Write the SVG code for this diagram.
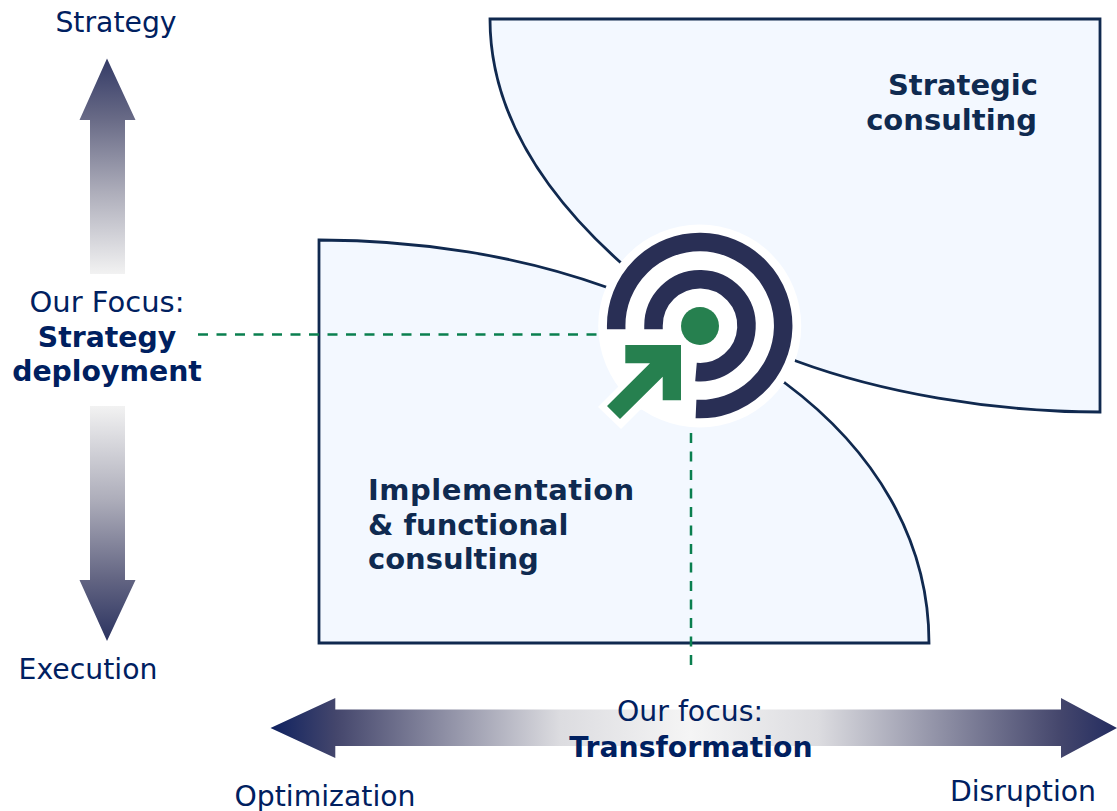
<svg xmlns="http://www.w3.org/2000/svg" width="1117" height="811" viewBox="0 0 1117 811">
<style>
text{font-family:"DejaVu Sans",Verdana,sans-serif;fill:#002060;font-size:28.300px}
.b{font-weight:bold}
.h{fill:#0f2a50;font-weight:bold;font-size:29px}
.region{fill:#f3f8ff;stroke:#10294f;stroke-width:2.800}
.dash{fill:none;stroke:#0a7f4f;stroke-width:2.500;stroke-dasharray:10 8.500}
.ring{fill:none;stroke:#292f55;stroke-width:18.500}
.g{fill:#26804f}
</style>
<defs>
<linearGradient id="up" gradientUnits="userSpaceOnUse" x1="0" y1="58" x2="0" y2="274"><stop offset="0" stop-color="#333a66"/><stop offset="0.28" stop-color="#686a86"/><stop offset="0.62" stop-color="#adadba"/><stop offset="1" stop-color="#f2f2f2"/></linearGradient>
<linearGradient id="down" gradientUnits="userSpaceOnUse" x1="0" y1="406" x2="0" y2="641"><stop offset="0" stop-color="#f2f2f2"/><stop offset="0.4" stop-color="#adadba"/><stop offset="0.74" stop-color="#626482"/><stop offset="1" stop-color="#2b3360"/></linearGradient>
<linearGradient id="left" gradientUnits="userSpaceOnUse" x1="271" y1="0" x2="690" y2="0"><stop offset="0" stop-color="#0f2260"/><stop offset="0.155" stop-color="#44466c"/><stop offset="0.69" stop-color="#dcdce0"/><stop offset="1" stop-color="#f5f5f5"/></linearGradient>
<linearGradient id="right" gradientUnits="userSpaceOnUse" x1="690" y1="0" x2="1117" y2="0"><stop offset="0" stop-color="#f5f5f5"/><stop offset="0.3" stop-color="#dcdce0"/><stop offset="0.868" stop-color="#44466c"/><stop offset="1" stop-color="#232c60"/></linearGradient>
</defs>
<g id="strategic-consulting">
<path class="region" d="M490 19H1100V412C990 412 880 392 796 361L620 262C540 190 490 110 490 19Z"/>
<text class="h" x="1038" y="95" text-anchor="end">Strategic</text>
<text class="h" x="1037" y="130" text-anchor="end">consulting</text>
</g>
<g id="implementation-consulting">
<path class="region" d="M319 240C420 240 520 256 606 287L785 383C875 450 929 540 929 643H319Z"/>
<text class="h" x="368" y="500" letter-spacing="0.500">Implementation</text>
<text class="h" x="368" y="535">&amp; functional</text>
<text class="h" x="368" y="569">consulting</text>
</g>
<g id="connectors">
<path class="dash" d="M198 334.500H600"/>
<path class="dash" d="M691 433V668"/>
</g>
<g id="target">
<circle cx="699.700" cy="326" r="101.500" fill="#fff"/>
<path fill="#fff" d="M620 345H690V400L640 410L621 429L598 407L630 375Z"/>
<path class="ring" d="M616.200 329.300V326A83.500 83.500 0 1 1 696 409"/>
<path class="ring" d="M653.500 329.300V326A46.500 46.500 0 1 1 696 372"/>
<circle class="g" cx="700" cy="326" r="19"/>
<path class="g" d="M625.300 345H681V400.300H662.700V376.700L620 419L607 406L650 363.300H625.300Z"/>
</g>
<g id="vertical-axis">
<path fill="url(#up)" d="M107 58.500L135.500 120H125V274H90V120H79.500Z"/>
<path fill="url(#down)" d="M90 406H125V580H135.500L107 641L79.500 580H90Z"/>
<text x="116" y="32" text-anchor="middle">Strategy</text>
<text x="107" y="312" text-anchor="middle" style="font-size:29px">Our Focus:</text>
<text class="b" x="107" y="347" text-anchor="middle">Strategy</text>
<text class="b" x="107" y="381" text-anchor="middle">deployment</text>
<text x="88" y="679" text-anchor="middle">Execution</text>
</g>
<g id="horizontal-axis">
<path fill="url(#left)" d="M270.500 728L335.300 698V709.500H690V746H335.300V758Z"/>
<path fill="url(#right)" d="M690 709.500H1061V698L1117 728L1061 758V746H690Z"/>
<text x="690" y="721" text-anchor="middle">Our focus:</text>
<text class="b" x="691" y="757" text-anchor="middle">Transformation</text>
<text x="325" y="806" text-anchor="middle">Optimization</text>
<text x="1023" y="801" text-anchor="middle">Disruption</text>
</g>
</svg>
